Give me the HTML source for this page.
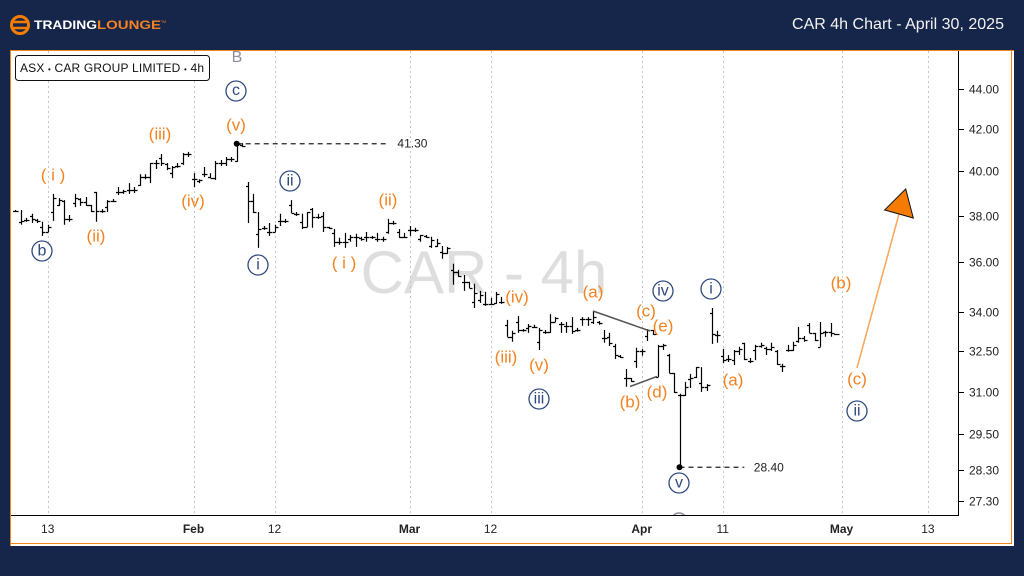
<!DOCTYPE html>
<html lang="en">
<head>
<meta charset="utf-8">
<title>CAR 4h Chart - April 30, 2025</title>
<style>
html,body{margin:0;padding:0;background:#16264a;width:1024px;height:576px;overflow:hidden}
svg{display:block;font-family:"Liberation Sans",Arial,sans-serif}
.o{fill:#f58220;font-size:17px;text-anchor:middle;dominant-baseline:central}
.n{fill:#2f4a80;font-size:16px;text-anchor:middle;dominant-baseline:central}
.c{fill:#fff;stroke:#2f4a80;stroke-width:1.3}
.ax{font-size:12px;fill:#222}
</style>
</head>
<body>
<svg id="chart" xmlns="http://www.w3.org/2000/svg" width="1024" height="576" viewBox="0 0 1024 576">
  <defs><clipPath id="plot-clip"><rect x="11" y="51" width="948" height="464.5"/></clipPath></defs>
  <rect x="0" y="0" width="1024" height="576" fill="#16264a"/>
  <rect x="10" y="50" width="1004" height="496" fill="#fff"/>
  <path d="M10.5 546V50.5H1014M1011.5 50V543.5H10" fill="none" stroke="#f0861e" stroke-width="1"/>

  <g>
    <circle cx="20" cy="25" r="8.5" fill="none" stroke="#f57c00" stroke-width="3"/>
    <path d="M11 22h18M11 28h18" stroke="#f57c00" stroke-width="2.4"/>
    <text x="34" y="29" font-size="11.5" font-weight="700" fill="#fff" textLength="63" lengthAdjust="spacingAndGlyphs">TRADING</text>
    <text x="97" y="29" font-size="11.5" font-weight="700" fill="#f58220" textLength="64" lengthAdjust="spacingAndGlyphs">LOUNGE</text>
    <text x="161" y="23" font-size="3.5" fill="#f58220">TM</text>
  </g>
  <text x="792" y="29" font-size="16" fill="#f2f2f2" textLength="212">CAR 4h Chart - April 30, 2025</text>

  <text x="484" y="293" font-size="60" fill="#dedede" text-anchor="middle">CAR - 4h</text>

  <g id="grid"></g>
  <g id="bars" clip-path="url(#plot-clip)"></g>
  <g id="levels"></g>

  <line x1="593" y1="311" x2="650" y2="331" stroke="#555" stroke-width="1.5"/>
  <line x1="630" y1="386.5" x2="657" y2="376.5" stroke="#555" stroke-width="1.5"/>

  <g>
    <line x1="857" y1="368" x2="899" y2="214" stroke="#f9a65a" stroke-width="1.5"/>
    <polygon points="905.7,189 884.7,210 913.3,218" fill="#f57c00" stroke="#111" stroke-width="1"/>
  </g>

  <g>
    <text class="o" x="53" y="175">( i )</text>
    <text class="o" x="96" y="236">(ii)</text>
    <text class="o" x="160" y="134">(iii)</text>
    <text class="o" x="193" y="201">(iv)</text>
    <text class="o" x="236" y="125">(v)</text>
    <text class="o" x="344" y="263">( i )</text>
    <text class="o" x="388" y="200">(ii)</text>
    <text class="o" x="506" y="357">(iii)</text>
    <text class="o" x="517" y="297">(iv)</text>
    <text class="o" x="539" y="365">(v)</text>
    <text class="o" x="593" y="292">(a)</text>
    <text class="o" x="630" y="402">(b)</text>
    <text class="o" x="646" y="311">(c)</text>
    <text class="o" x="657" y="392">(d)</text>
    <text class="o" x="663" y="326">(e)</text>
    <text class="o" x="733" y="380">(a)</text>
    <text class="o" x="841" y="283">(b)</text>
    <text class="o" x="857" y="379">(c)</text>
  </g>

  <text x="237" y="62" font-size="16" fill="#8a8f9c" text-anchor="middle">B</text>

  <g>
    <g><circle class="c" cx="236" cy="91" r="10"/><text class="n" x="236" y="90.5">c</text></g>
    <g><circle class="c" cx="42" cy="251" r="10"/><text class="n" x="42" y="251">b</text></g>
    <g><circle class="c" cx="258" cy="265" r="10"/><text class="n" x="258" y="265">i</text></g>
    <g><circle class="c" cx="290" cy="181" r="10"/><text class="n" x="290" y="181">ii</text></g>
    <g><circle class="c" cx="539" cy="399" r="10"/><text class="n" x="539" y="399">iii</text></g>
    <g><circle class="c" cx="663" cy="291" r="10"/><text class="n" x="663" y="291">iv</text></g>
    <g><circle class="c" cx="711" cy="289" r="10"/><text class="n" x="711" y="289">i</text></g>
    <g><circle class="c" cx="857" cy="411" r="10"/><text class="n" x="857" y="411">ii</text></g>
    <g><circle class="c" cx="679" cy="483" r="10"/><text class="n" x="679" y="483">v</text></g>
    <g clip-path="url(#plot-clip)"><circle cx="679" cy="521" r="8" fill="none" stroke="#8a8f9c" stroke-width="1.5"/></g>
  </g>

  <g>
    <rect x="15.5" y="55.5" width="194" height="25" rx="3" fill="#fff" stroke="#111"/>
    <text x="20" y="72" font-size="12" fill="#111" textLength="184" lengthAdjust="spacing">ASX <tspan font-size="8">•</tspan> CAR GROUP LIMITED <tspan font-size="8">•</tspan> 4h</text>
  </g>

  <line x1="958.5" y1="51" x2="958.5" y2="516" stroke="#000"/>
  <line x1="11" y1="515.5" x2="959" y2="515.5" stroke="#000"/>
  <g id="yaxis"></g>
  <g id="xaxis"></g>
</svg>
<script>
const opens=[38.21,37.73,37.81,37.99,37.81,37.51,37.29,38.16,38.47,38.65,37.86,38.56,38.74,38.60,38.47,39.06,38.21,38.38,38.65,39.06,39.06,39.15,39.15,39.37,39.74,39.74,40.39,40.62,40.34,39.92,40.25,40.39,40.81,39.64,39.55,39.87,39.74,39.69,40.39,40.39,40.58,40.48,41.23,39.33,38.65,37.21,37.47,37.29,37.29,37.77,37.77,38.47,38.08,37.73,37.51,38.29,37.95,37.99,37.51,37.25,36.87,36.87,36.99,37.08,37.04,37.08,37.08,36.99,36.99,37.29,37.68,37.29,37.08,37.38,37.38,36.99,37.12,36.69,36.69,36.44,36.40,35.69,35.61,35.20,35.20,34.39,34.47,34.31,34.31,34.35,34.39,33.49,33.03,33.60,33.29,33.37,33.41,32.84,33.22,33.22,33.60,33.52,33.45,33.45,33.29,33.72,33.72,33.60,33.60,32.99,33.03,32.68,32.31,31.49,31.49,32.12,32.49,33.06,33.29,31.53,32.68,32.34,31.67,30.88,30.88,31.46,31.53,31.31,31.17,33.95,33.10,32.31,32.19,32.15,32.49,32.80,32.12,32.53,32.68,32.61,32.57,32.49,31.93,32.53,32.53,32.87,32.99,33.49,33.18,32.65,33.22,33.22,33.14];
const highs=[38.25,38.25,37.90,38.08,37.86,37.73,37.60,38.97,38.78,38.69,38.03,38.97,38.78,38.83,38.47,39.06,38.29,38.69,38.74,39.28,39.15,39.46,39.28,39.87,39.87,40.39,40.53,40.81,40.39,40.25,40.39,40.86,40.91,39.92,39.64,40.20,39.92,40.48,40.53,40.67,40.67,41.33,41.33,39.51,38.97,38.16,37.55,37.68,37.60,38.08,37.86,38.69,38.16,38.08,38.16,38.34,38.08,38.16,37.51,37.42,37.04,37.25,37.16,37.21,37.08,37.29,37.12,37.25,37.08,37.86,37.77,37.42,37.25,37.55,37.47,37.16,37.16,37.08,36.99,36.69,36.65,35.94,35.69,35.48,35.20,35.12,34.83,34.79,34.55,34.79,34.59,33.68,33.26,33.83,33.33,33.52,33.49,33.37,33.29,33.91,33.79,33.60,33.60,33.79,33.37,33.79,33.79,34.03,33.64,33.29,33.18,32.76,32.34,31.82,31.49,32.61,32.57,33.33,33.29,32.72,32.76,32.38,31.67,30.92,31.35,31.64,31.89,31.89,31.27,34.15,33.26,32.57,32.34,32.53,32.65,32.80,32.23,32.72,32.80,32.65,32.80,32.53,32.01,32.72,32.84,33.41,33.06,33.56,33.18,33.60,33.26,33.56,33.14];
const lows=[38.16,37.60,37.73,37.68,37.68,37.12,37.29,37.77,38.43,37.60,37.73,38.38,38.43,38.43,38.16,37.73,38.12,38.16,38.60,38.92,38.97,38.97,39.01,39.33,39.64,39.46,40.11,40.25,40.06,39.69,40.16,40.30,40.67,39.28,39.46,39.74,39.69,39.60,40.25,40.25,40.44,40.44,41.14,37.68,38.12,36.61,37.38,37.12,37.29,37.55,37.68,38.12,37.99,37.42,37.51,37.47,37.86,37.29,37.42,36.65,36.74,36.61,36.87,36.65,36.91,36.87,36.99,36.87,36.87,37.21,37.60,37.04,37.04,37.12,37.29,36.87,37.04,36.61,36.65,36.15,36.36,35.08,35.40,34.83,34.95,34.15,34.35,34.23,34.31,34.31,34.31,33.03,32.84,33.18,33.22,33.18,33.37,32.53,33.14,33.18,33.60,33.18,33.18,33.14,33.22,33.45,33.45,33.52,33.49,32.80,32.68,32.19,32.23,31.17,31.35,31.86,32.31,32.87,33.10,31.53,32.53,31.67,30.95,28.43,30.84,31.13,31.49,30.99,31.02,32.76,32.80,32.04,32.08,31.97,32.34,32.15,32.04,32.15,32.61,32.34,32.49,31.97,31.71,32.46,32.49,32.80,32.84,33.18,32.87,32.65,33.03,33.03,33.14];
const closes=[38.21,37.77,37.81,37.86,37.77,37.29,37.51,38.78,38.69,37.86,37.86,38.78,38.60,38.47,38.21,38.21,38.21,38.65,38.65,39.06,39.10,39.15,39.15,39.74,39.74,40.39,40.39,40.39,40.16,40.20,40.25,40.81,40.81,39.64,39.60,39.87,39.69,40.39,40.39,40.58,40.58,41.28,41.19,38.65,38.16,37.42,37.47,37.29,37.51,37.77,37.77,38.12,38.08,37.51,38.16,37.95,37.95,37.51,37.47,36.87,36.87,36.87,37.08,37.08,36.99,37.08,37.08,36.99,36.99,37.68,37.68,37.08,37.08,37.38,37.38,37.16,37.08,36.95,36.82,36.40,36.61,35.61,35.44,35.20,34.95,34.75,34.67,34.31,34.31,34.71,34.39,33.03,33.18,33.29,33.29,33.45,33.41,33.29,33.22,33.60,33.76,33.52,33.45,33.26,33.29,33.72,33.72,33.79,33.56,32.99,32.80,32.34,32.27,31.49,31.38,32.49,32.49,33.29,33.14,32.68,32.72,31.67,30.99,30.88,31.17,31.49,31.89,31.17,31.24,33.14,33.10,32.15,32.19,32.49,32.57,32.19,32.12,32.68,32.72,32.57,32.65,32.01,31.93,32.53,32.72,32.99,32.91,33.18,32.91,33.18,33.22,33.18,33.14];
const yTicks=[44,42,40,38,36,34,32.5,31,29.5,28.3,27.3];
const xTickIndexes=[6,33,48,73,88,116,131,153,169];
const xTickLabels=["13","Feb","12","Mar","12","Apr","11","May","13"];
const xTickMajor=[false,true,false,true,false,true,false,true,false];
const levelIndexes=[41,123];
const levelPrices=[41.30,28.40];
const levelSpans=[28,12];

const SVGNS='http://www.w3.org/2000/svg';
function xAt(i){return 15.3+5.4*i;}
function yAt(p){return 89+864*Math.log(44/p);}
function make(tag,attrs,parent){
  const el=document.createElementNS(SVGNS,tag);
  for(const k in attrs)el.setAttribute(k,attrs[k]);
  parent.appendChild(el);
  return el;
}
const gridG=document.getElementById('grid');
const barsG=document.getElementById('bars');
const levelsG=document.getElementById('levels');
const yG=document.getElementById('yaxis');
const xG=document.getElementById('xaxis');

xTickIndexes.forEach(function(idx,k){
  const x=Math.round(xAt(idx))+0.5;
  const g=make('line',{x1:x,y1:51,x2:x,y2:515,stroke:'#c4c4c4','stroke-width':1,'stroke-dasharray':'2 3'},gridG);
  
  
  const t=make('text',{x:xAt(idx),y:533,'text-anchor':'middle',class:'ax','font-weight':xTickMajor[k]?'700':'400'},xG);
  t.textContent=xTickLabels[k];
  
  
});

yTicks.forEach(function(p){
  const y=Math.round(yAt(p))+0.5;
  const l=make('line',{x1:959,y1:y,x2:964,y2:y,stroke:'#000'},yG);
  
  
  const t=make('text',{x:969,y:y+4,class:'ax'},yG);
  t.textContent=p.toFixed(2);
  
  
});

opens.forEach(function(o,i){
  const x=Math.round(xAt(i))+0.5;
  const yo=Math.round(yAt(o))+0.5;
  const yc=Math.round(yAt(closes[i]))+0.5;
  const d='M'+x+' '+yAt(highs[i]).toFixed(1)+'V'+yAt(lows[i]).toFixed(1)+'M'+(x-2.5)+' '+yo+'H'+x+'M'+x+' '+yc+'H'+(x+3);
  const bar=make('path',{d:d,stroke:'#000','stroke-width':1.2,fill:'none'},barsG);
  
  
});

levelPrices.forEach(function(p,k){
  const x=xAt(levelIndexes[k]);
  const y=yAt(p);
  const xEnd=x+levelSpans[k]*5.4;
  const line=make('line',{x1:x,y1:y,x2:xEnd,y2:y,stroke:'#222','stroke-width':1.2,'stroke-dasharray':'5 4'},levelsG);
  
  
  const dot=make('circle',{cx:x,cy:y,r:3,fill:'#000'},levelsG);
  
  
  const t=make('text',{x:xEnd+9.5,y:y+4,class:'ax'},levelsG);
  t.textContent=p.toFixed(2);
  
  
});
</script>
</body>
</html>
